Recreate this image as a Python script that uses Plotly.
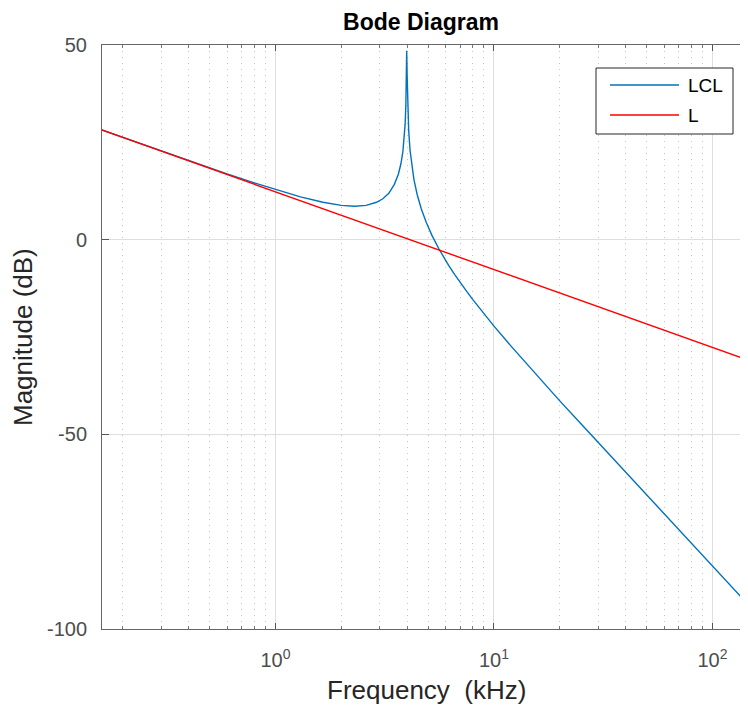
import plotly.graph_objects as go

# ---- data (frequency in kHz, magnitude in dB) ----
freq_lcl = [0.16, 0.25, 0.4, 0.6, 0.8, 1.0, 1.3, 1.65, 2.0, 2.3, 2.6, 2.9, 3.1, 3.3,
            3.5, 3.65, 3.75, 3.83, 3.88, 3.92, 3.95, 3.97, 3.985, 4.005, 4.03, 4.07,
            4.13, 4.2, 4.3, 4.45, 4.65, 4.9, 5.2, 5.6, 5.9, 6.2, 6.6, 7.0, 7.5, 8.0,
            9.0, 10.0, 12.0, 14.0, 17.0, 20.0, 25.0, 30.0, 45.0, 70.0, 100.0, 145.0]
mag_lcl = [28.2, 24.4, 20.3, 16.9, 14.6, 12.9, 11.0, 9.6, 8.8, 8.6, 8.8, 9.6, 10.5, 11.9,
           14.2, 16.8, 19.5, 22.7, 25.8, 29.6, 34.4, 40.3, 48.5, 42.0, 34.1, 28.0,
           22.9, 19.2, 15.5, 11.6, 7.9, 4.4, 1.1, -2.4, -4.6, -6.6, -8.9, -11.0, -13.3, -15.4,
           -19.0, -22.2, -27.4, -31.7, -37.0, -41.4, -47.3, -52.1, -62.8, -74.3, -83.7, -93.6]

freq_l = [0.16, 1.0, 10.0, 100.0, 145.0]
mag_l = [28.2, 12.3, -7.7, -27.7, -30.9]

series_names = ["LCL", "L"]
series_colors = ["#0072BD", "#FF0000"]

x_major_ticks = [1, 10, 100]
x_major_labels = ["10<sup>0</sup>", "10<sup>1</sup>", "10<sup>2</sup>"]
x_minor_ticks = [m * d for d in (0.1, 1, 10) for m in range(2, 10)]
y_ticks = [-100, -50, 0, 50]
y_labels = ["-100", "-50", "0", "50"]

FONT = "Liberation Sans, Arial, Helvetica, sans-serif"
TICK_COLOR = "#4d4d4d"

# the page body has an 8px margin on every side
OFF = 8
W, H = 748 - 2 * OFF, 713 - 2 * OFF
PLOT_L, PLOT_R, PLOT_T, PLOT_B = 102, 740, 45, 629  # page pixels

fig = go.Figure()
fig.add_trace(go.Scatter(x=freq_lcl, y=mag_lcl, mode="lines", name=series_names[0],
                         line=dict(color=series_colors[0], width=1.4), showlegend=False))
fig.add_trace(go.Scatter(x=freq_l, y=mag_l, mode="lines", name=series_names[1],
                         line=dict(color=series_colors[1], width=1.4), showlegend=False))

fig.update_layout(
    width=W, height=H,
    margin=dict(l=PLOT_L - OFF, r=W + OFF - PLOT_R, t=PLOT_T - OFF, b=H + OFF - PLOT_B),
    paper_bgcolor="white", plot_bgcolor="white",
    font=dict(family=FONT, color="#262626"),
    title=dict(text="<b>Bode Diagram</b>", x=0.5, xref="paper", xanchor="center",
               y=1 - (22 - OFF) / H, yref="container", yanchor="middle",
               font=dict(size=23, color="#000000", family=FONT)),
    showlegend=False,
)

fig.update_xaxes(
    type="log", range=[-0.794, 2.1259],
    tickmode="array", tickvals=x_major_ticks, ticktext=x_major_labels,
    tickfont=dict(size=20, color=TICK_COLOR, family=FONT),
    ticks="inside", ticklen=6, tickcolor="#555555", tickwidth=1,
    showline=True, linecolor="#666666", linewidth=1, mirror="allticks",
    showgrid=True, gridcolor="#dedede", gridwidth=1,
    zeroline=False, ticklabelstandoff=13,
    minor=dict(tickmode="array", tickvals=x_minor_ticks, ticks="inside", ticklen=3,
               tickcolor="#777777", showgrid=True, gridcolor="#c4c4c4",
               griddash="1px,5px", gridwidth=1),
)
fig.update_yaxes(
    range=[-100, 50],
    tickmode="array", tickvals=y_ticks, ticktext=y_labels,
    tickfont=dict(size=20, color=TICK_COLOR, family=FONT),
    ticks="inside", ticklen=7, tickcolor="#555555", tickwidth=1,
    showline=True, linecolor="#666666", linewidth=1, mirror=False,
    showgrid=True, gridcolor="#dedede", gridwidth=1,
    zeroline=False, ticklabelstandoff=10,
)


def px(xp):
    return (xp - PLOT_L) / (PLOT_R - PLOT_L)


def py(yp):
    return (PLOT_B - yp) / (PLOT_B - PLOT_T)


# axis titles
fig.add_annotation(text="Frequency\u00a0 (kHz)", xref="paper", yref="paper",
                   x=px(426), y=py(690), xanchor="center", yanchor="middle",
                   showarrow=False, font=dict(size=26, color="#262626", family=FONT))
fig.add_annotation(text="Magnitude (dB)", xref="paper", yref="paper", textangle=-90,
                   x=px(23), y=py(337), xanchor="center", yanchor="middle",
                   showarrow=False, font=dict(size=26, color="#262626", family=FONT))

# legend box (drawn manually to match the long sample lines)
fig.add_shape(type="rect", xref="paper", yref="paper",
              x0=px(596), x1=px(733), y0=py(134), y1=py(68),
              line=dict(color="#262626", width=1), fillcolor="white", layer="above")
for i, (nm, col) in enumerate(zip(series_names, series_colors)):
    yy = 85 + 30 * i
    fig.add_shape(type="line", xref="paper", yref="paper",
                  x0=px(610), x1=px(679), y0=py(yy), y1=py(yy),
                  line=dict(color=col, width=1.4), layer="above")
    fig.add_annotation(text=nm, xref="paper", yref="paper", x=px(686), y=py(yy),
                       xanchor="left", yanchor="middle", showarrow=False,
                       font=dict(size=19, color="#000000", family=FONT))

fig.write_html("out.html")
